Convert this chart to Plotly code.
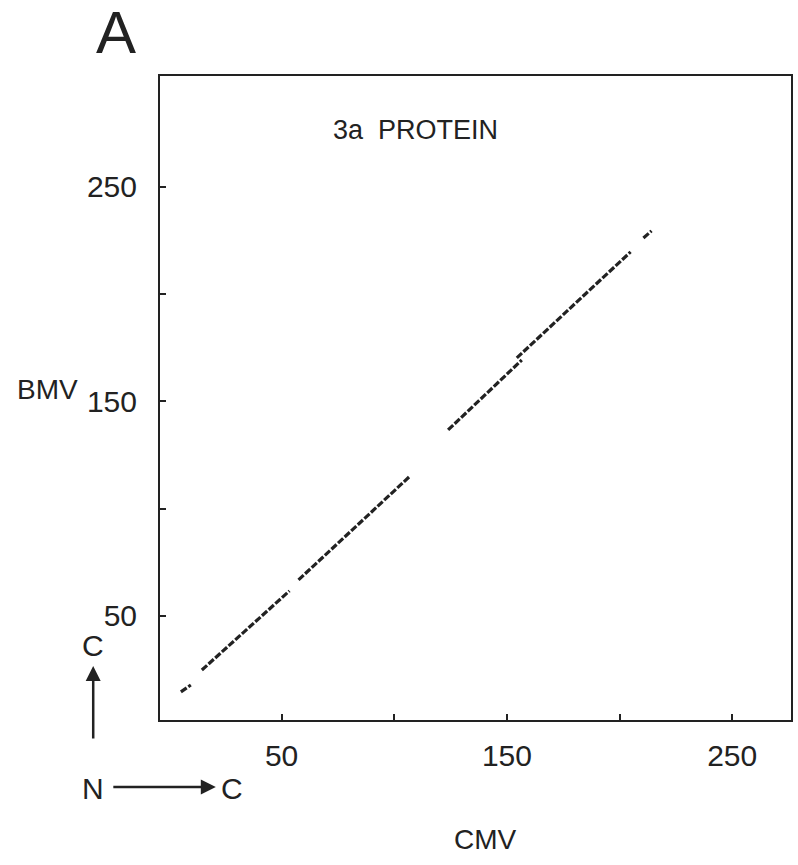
import plotly.graph_objects as go

# Dot-plot diagonal segments (CMV residue vs BMV residue), start/end of each run
seg_x = [[5.3, 9.7], [14.6, 53.5], [57.5, 106.6], [123.9, 156.6], [154.4, 204.9], [210.6, 214.2]]
seg_y = [[14.6, 17.8], [24.8, 61.7], [66.8, 114.8], [136.7, 169.3], [170.3, 219.7], [226.2, 229.5]]

tick_vals = [50, 100, 150, 200, 250]
tick_text = ["50", "", "150", "", "250"]

xs, ys = [], []
for sx, sy in zip(seg_x, seg_y):
    xs += sx + [None]
    ys += sy + [None]

FONT = "Liberation Sans, Arial, Helvetica, sans-serif"
INK = "#222222"

fig = go.Figure()
fig.add_trace(go.Scatter(x=xs, y=ys, mode="lines",
                         line=dict(color=INK, width=3.2, dash="7px,2px"),
                         connectgaps=False, showlegend=False, hoverinfo="skip"))

axis_common = dict(showgrid=False, zeroline=False, showline=True, mirror=True,
                   linecolor=INK, linewidth=2, ticks="inside", ticklen=6,
                   tickwidth=2, tickcolor=INK, tickmode="array",
                   tickvals=tick_vals, ticktext=tick_text,
                   tickfont=dict(family=FONT, size=30, color=INK))

fig.update_layout(
    width=798, height=865,
    margin=dict(l=160, r=5, t=76, b=145),
    paper_bgcolor="white", plot_bgcolor="white",
    xaxis=dict(range=[-3.98, 276.1], ticklabelstandoff=8, **axis_common),
    yaxis=dict(range=[1.5, 301.7], ticklabelstandoff=15, **axis_common),
    font=dict(family=FONT, color=INK),
)

W, H = 633.0, 644.0
def px(x):
    return (x - 160) / W
def py(y):
    return (720 - y) / H

def label(text, x, y, size=28):
    fig.add_annotation(text=text, xref="paper", yref="paper", x=px(x), y=py(y),
                       showarrow=False, xanchor="center", yanchor="middle",
                       font=dict(family=FONT, size=size, color=INK))

label("A", 116, 33, size=60)
label("3a  PROTEIN", 416, 130, size=27)
label("BMV", 47, 389, size=28)
label("CMV", 487, 840, size=28)
label("C", 93, 645, size=30)
label("N", 93, 788, size=30)
label("C", 232, 788, size=30)

# orientation arrows N -> C
fig.add_annotation(xref="paper", yref="paper", x=px(93), y=py(666), text="",
                   showarrow=True, ax=0, ay=74, arrowhead=2, arrowsize=1.2,
                   arrowwidth=2.5, arrowcolor=INK, standoff=0, startstandoff=0)
fig.add_annotation(xref="paper", yref="paper", x=px(216), y=py(787), text="",
                   showarrow=True, ax=-104, ay=0, arrowhead=2, arrowsize=1.2,
                   arrowwidth=2.5, arrowcolor=INK, standoff=0, startstandoff=0)

fig.write_html("out.html")
